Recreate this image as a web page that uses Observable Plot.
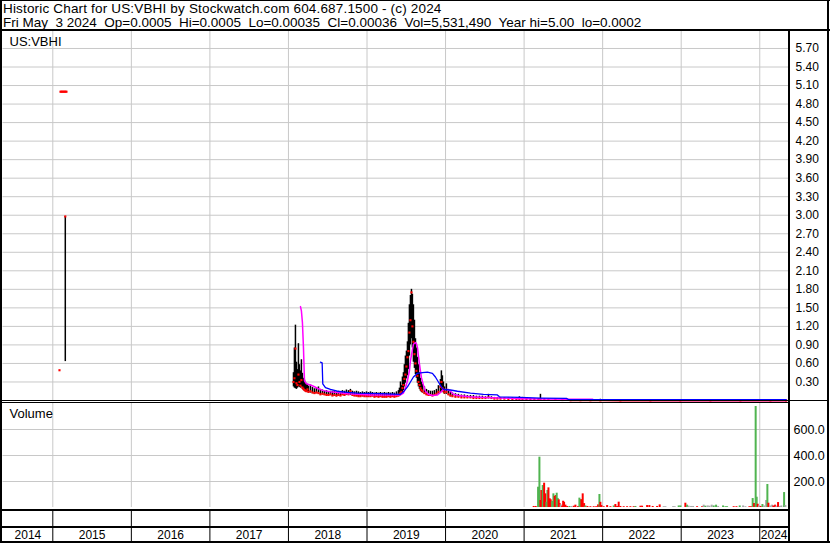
<!DOCTYPE html>
<html><head><meta charset="utf-8">
<script src="https://cdn.jsdelivr.net/npm/d3@7"></script>
<script src="https://cdn.jsdelivr.net/npm/@observablehq/plot@0.6"></script>
<style>
body{margin:0;background:#fff;}
#chart{position:relative;width:830px;height:543px;overflow:hidden;background:#fff;font-family:"Liberation Sans",Arial,sans-serif;color:#000;}
.hdr{position:absolute;left:3px;font-size:13.5px;line-height:14px;white-space:pre;}
.ln{position:absolute;background:#000;}
</style></head><body>
<div id="chart"></div>
<script>
// ---------- header text ----------
const headerLine1 = "Historic Chart for US:VBHI by Stockwatch.com 604.687.1500 - (c) 2024";
const headerLine2 = "Fri May  3 2024  Op=0.0005  Hi=0.0005  Lo=0.00035  Cl=0.00036  Vol=5,531,490  Year hi=5.00  lo=0.0002";
const symbolLabel = "US:VBHI";
const volumeLabel = "Volume";

// ---------- axes ----------
const xDomain = [2014.366, 2024.366];
const yearStarts = [2015, 2016, 2017, 2018, 2019, 2020, 2021, 2022, 2023, 2024];
const yearLabels = ["2014", "2015", "2016", "2017", "2018", "2019", "2020", "2021", "2022", "2023", "2024"];
const priceTicks = [0.30, 0.60, 0.90, 1.20, 1.50, 1.80, 2.10, 2.40, 2.70, 3.00, 3.30, 3.60, 3.90, 4.20, 4.50, 4.80, 5.10, 5.40, 5.70];
const priceDomain = [0, 5.975];
const volumeTicks = [200, 400, 600];
const volumeDomain = [0, 800];

// ---------- price bars (decimal year, high, low, close) ----------
const priceDates = [
 2015.085, 2015.098, 2015.110, 2015.123, 2015.136, 2015.149, 2015.159, 2015.161, 2015.174, 2018.064, 2018.076, 2018.089, 2018.102,
 2018.115, 2018.127, 2018.140, 2018.153, 2018.165, 2018.178, 2018.191, 2018.204, 2018.216, 2018.229,
 2018.242, 2018.255, 2018.280, 2018.306, 2018.331, 2018.356, 2018.382, 2018.407, 2018.433, 2018.458,
 2018.484, 2018.509, 2018.535, 2018.560, 2018.585, 2018.611, 2018.636, 2018.662, 2018.687, 2018.713,
 2018.738, 2018.764, 2018.789, 2018.815, 2018.840, 2018.866, 2018.891, 2018.916, 2018.942, 2018.967,
 2018.993, 2019.018, 2019.044, 2019.069, 2019.095, 2019.120, 2019.146, 2019.171, 2019.197, 2019.222,
 2019.247, 2019.273, 2019.298, 2019.324, 2019.349, 2019.375, 2019.400, 2019.413, 2019.426, 2019.438,
 2019.451, 2019.464, 2019.476, 2019.489, 2019.502, 2019.515, 2019.527, 2019.540, 2019.553, 2019.566,
 2019.578, 2019.591, 2019.604, 2019.617, 2019.629, 2019.642, 2019.655, 2019.668, 2019.680, 2019.693,
 2019.706, 2019.731, 2019.757, 2019.782, 2019.807, 2019.833, 2019.858, 2019.884, 2019.909, 2019.935,
 2019.947, 2019.960, 2019.973, 2019.986, 2020.011, 2020.037, 2020.062, 2020.088, 2020.126, 2020.164,
 2020.202, 2020.240, 2020.278, 2020.317, 2020.355, 2020.393, 2020.431, 2020.469, 2020.508, 2020.546,
 2020.584, 2020.622, 2020.660, 2020.699, 2020.749, 2020.800, 2020.851, 2020.902, 2020.940, 2020.979,
 2021.030, 2021.080, 2021.131, 2021.182, 2021.208, 2021.258, 2021.310, 2021.399, 2021.488, 2021.590,
 2021.717, 2021.844, 2021.971, 2022.226, 2022.608, 2022.990, 2023.372, 2023.754, 2024.136, 2024.336];
const priceHigh = [
 0.49, 5.00, 5.00, 5.00, 5.00, 5.00, 2.98, 5.00, 5.00, 0.45, 0.85, 1.22, 0.62,
 0.50, 0.92, 0.58, 0.48, 0.66, 0.44, 0.36, 0.33, 0.29, 0.27,
 0.26, 0.23, 0.25, 0.21, 0.19, 0.21, 0.22, 0.18, 0.17, 0.15,
 0.16, 0.14, 0.15, 0.15, 0.16, 0.14, 0.15, 0.14, 0.16, 0.15,
 0.17, 0.16, 0.18, 0.15, 0.14, 0.15, 0.14, 0.13, 0.14, 0.13,
 0.14, 0.13, 0.14, 0.13, 0.12, 0.13, 0.12, 0.13, 0.12, 0.13,
 0.12, 0.13, 0.12, 0.13, 0.12, 0.14, 0.16, 0.20, 0.30, 0.24,
 0.38, 0.45, 0.58, 0.72, 0.80, 0.95, 1.25, 1.55, 1.70, 1.80,
 1.72, 1.55, 1.30, 1.00, 0.85, 0.70, 0.58, 0.45, 0.36, 0.30,
 0.26, 0.22, 0.18, 0.16, 0.15, 0.15, 0.16, 0.18, 0.24, 0.34,
 0.48, 0.40, 0.30, 0.22, 0.27, 0.18, 0.14, 0.12, 0.11, 0.10,
 0.09, 0.09, 0.08, 0.08, 0.08, 0.07, 0.07, 0.07, 0.06, 0.10,
 0.06, 0.05, 0.05, 0.05, 0.04, 0.04, 0.04, 0.04, 0.06, 0.05,
 0.04, 0.03, 0.03, 0.03, 0.10, 0.03, 0.02, 0.02, 0.015, 0.01,
 0.015, 0.01, 0.02, 0.004, 0.003, 0.003, 0.002, 0.002, 0.0015, 0.0005];
const priceLow = [
 0.49, 5.00, 5.00, 5.00, 5.00, 5.00, 0.63, 5.00, 5.00, 0.22, 0.20, 0.19, 0.18,
 0.20, 0.22, 0.21, 0.20, 0.22, 0.18, 0.16, 0.15, 0.14, 0.13,
 0.14, 0.12, 0.12, 0.11, 0.10, 0.11, 0.10, 0.09, 0.09, 0.08,
 0.08, 0.07, 0.08, 0.07, 0.07, 0.06, 0.07, 0.07, 0.08, 0.07,
 0.08, 0.08, 0.08, 0.07, 0.07, 0.06, 0.06, 0.06, 0.06, 0.06,
 0.06, 0.05, 0.06, 0.06, 0.05, 0.05, 0.05, 0.05, 0.05, 0.05,
 0.05, 0.05, 0.05, 0.05, 0.05, 0.05, 0.06, 0.07, 0.08, 0.10,
 0.12, 0.16, 0.22, 0.28, 0.35, 0.40, 0.50, 0.72, 0.90, 1.00,
 0.85, 0.62, 0.52, 0.42, 0.36, 0.28, 0.22, 0.18, 0.15, 0.13,
 0.12, 0.10, 0.08, 0.08, 0.07, 0.07, 0.08, 0.09, 0.10, 0.12,
 0.15, 0.14, 0.12, 0.10, 0.10, 0.08, 0.06, 0.06, 0.05, 0.05,
 0.04, 0.04, 0.04, 0.04, 0.03, 0.03, 0.03, 0.03, 0.03, 0.03,
 0.03, 0.02, 0.02, 0.02, 0.02, 0.02, 0.02, 0.015, 0.015, 0.015,
 0.01, 0.01, 0.01, 0.01, 0.01, 0.01, 0.005, 0.005, 0.005, 0.003,
 0.003, 0.002, 0.002, 0.001, 0.001, 0.001, 0.0008, 0.0005, 0.0004, 0.00035];
const priceClose = [
 0.49, 5.00, 5.00, 5.00, 5.00, 5.00, 2.98, 5.00, 5.00, 0.30, 0.36, 0.84, 0.28,
 0.25, 0.42, 0.30, 0.24, 0.33, 0.21, 0.19, 0.17, 0.16, 0.15,
 0.18, 0.14, 0.15, 0.13, 0.12, 0.13, 0.12, 0.10, 0.11, 0.10,
 0.09, 0.09, 0.10, 0.08, 0.09, 0.08, 0.09, 0.08, 0.10, 0.09,
 0.11, 0.10, 0.15, 0.09, 0.08, 0.08, 0.07, 0.07, 0.08, 0.07,
 0.07, 0.07, 0.07, 0.08, 0.06, 0.07, 0.06, 0.07, 0.06, 0.06,
 0.06, 0.07, 0.06, 0.07, 0.06, 0.07, 0.08, 0.10, 0.12, 0.14,
 0.20, 0.25, 0.35, 0.42, 0.55, 0.70, 0.80, 1.10, 1.30, 1.75,
 1.20, 0.95, 0.75, 0.60, 0.48, 0.40, 0.30, 0.25, 0.20, 0.17,
 0.15, 0.12, 0.10, 0.09, 0.09, 0.08, 0.09, 0.11, 0.14, 0.22,
 0.30, 0.20, 0.16, 0.13, 0.14, 0.10, 0.08, 0.07, 0.06, 0.06,
 0.05, 0.05, 0.05, 0.05, 0.04, 0.04, 0.04, 0.04, 0.04, 0.05,
 0.04, 0.03, 0.03, 0.03, 0.03, 0.02, 0.02, 0.02, 0.02, 0.02,
 0.02, 0.015, 0.015, 0.015, 0.02, 0.01, 0.01, 0.01, 0.008, 0.005,
 0.005, 0.004, 0.003, 0.002, 0.0015, 0.0012, 0.001, 0.0008, 0.0006, 0.00036];

// ---------- moving averages ----------
const fastMaDates = [2018.153, 2018.165, 2018.178, 2018.191, 2018.204, 2018.229, 2018.280, 2018.318, 2018.382, 2018.445,
 2018.535, 2018.624, 2018.751, 2018.878, 2019.044, 2019.209, 2019.426, 2019.464, 2019.489, 2019.515,
 2019.540, 2019.553, 2019.578, 2019.591, 2019.617, 2019.629, 2019.642, 2019.655, 2019.668, 2019.680,
 2019.693, 2019.718, 2019.744, 2019.782, 2019.833, 2019.897, 2019.935, 2019.973, 2020.024, 2020.062,
 2020.100, 2020.164, 2020.317, 2020.508, 2020.699, 2020.953, 2021.271, 2021.590, 2021.870, 2021.895,
 2023.245, 2024.336];
const fastMaValues = [1.52, 1.45, 1.26, 0.86, 0.32, 0.27, 0.25, 0.23, 0.19, 0.16,
 0.14, 0.13, 0.11, 0.10, 0.09, 0.09, 0.09, 0.12, 0.20, 0.32,
 0.48, 0.64, 0.82, 0.91, 0.94, 0.92, 0.86, 0.72, 0.59, 0.48,
 0.37, 0.25, 0.15, 0.10, 0.08, 0.09, 0.13, 0.18, 0.18, 0.15,
 0.10, 0.08, 0.06, 0.05, 0.04, 0.03, 0.025, 0.02, 0.02, 0.003,
 0.001, 0.0005];
const slowMaDates = [2018.407, 2018.429, 2018.437, 2018.471, 2018.535, 2018.624, 2018.751, 2018.878, 2019.171, 2019.426,
 2019.464, 2019.515, 2019.553, 2019.591, 2019.642, 2019.706, 2019.769, 2019.833, 2019.871, 2019.909,
 2019.947, 2019.973, 2020.062, 2020.151, 2020.317, 2020.482, 2020.660, 2020.686, 2020.953, 2021.208,
 2021.539, 2021.564, 2024.336];
const slowMaValues = [0.62, 0.61, 0.27, 0.21, 0.18, 0.15, 0.13, 0.12, 0.11, 0.10,
 0.14, 0.22, 0.30, 0.38, 0.44, 0.45, 0.46, 0.44, 0.38, 0.30,
 0.22, 0.18, 0.17, 0.15, 0.12, 0.10, 0.09, 0.06, 0.05, 0.04,
 0.035, 0.015, 0.015];

// ---------- volume (decimal year, value, direction: 1 up, -1 down, 0 unchanged) ----------
const volDates = [
 2021.122, 2021.148, 2021.178, 2021.195, 2021.208, 2021.220, 2021.237, 2021.255, 2021.271, 2021.284,
 2021.297, 2021.310, 2021.326, 2021.339, 2021.357, 2021.373, 2021.390, 2021.402, 2021.415, 2021.428,
 2021.441, 2021.453, 2021.466, 2021.484, 2021.497, 2021.509, 2021.526, 2021.548, 2021.577, 2021.602,
 2021.632, 2021.653, 2021.688, 2021.704, 2021.717, 2021.730, 2021.746, 2021.764, 2021.781, 2021.806,
 2021.844, 2021.886, 2021.917, 2021.942, 2021.959, 2021.971, 2021.984, 2022.013, 2022.057, 2022.099,
 2022.141, 2022.162, 2022.184, 2022.204, 2022.226, 2022.268, 2022.311, 2022.353, 2022.395, 2022.417,
 2022.481, 2022.502, 2022.566, 2022.595, 2022.637, 2022.693, 2022.726, 2022.777, 2022.799, 2022.897,
 2022.917, 2022.968, 2022.990, 2023.053, 2023.075, 2023.095, 2023.126, 2023.151, 2023.202, 2023.266,
 2023.286, 2023.308, 2023.337, 2023.359, 2023.388, 2023.414, 2023.444, 2023.470, 2023.533, 2023.563,
 2023.584, 2023.668, 2023.703, 2023.745, 2023.788, 2023.817, 2023.868, 2023.890, 2023.910, 2023.928,
 2023.948, 2023.961, 2023.974, 2023.992, 2024.012, 2024.034, 2024.055, 2024.081, 2024.097, 2024.110,
 2024.132, 2024.157, 2024.174, 2024.195, 2024.212, 2024.233, 2024.254, 2024.275, 2024.310, 2024.326];
const volValues = [
 8, 8, 156, 387, 54, 131, 169, 187, 105, 40,
 131, 151, 67, 59, 46, 105, 85, 92, 110, 70,
 59, 30, 20, 10, 48, 40, 18, 8, 8, 8,
 10, 18, 8, 72, 60, 60, 105, 30, 12, 8,
 6, 6, 6, 20, 100, 40, 15, 6, 15, 6,
 12, 23, 8, 41, 8, 6, 6, 6, 6, 8,
 10, 10, 15, 15, 8, 8, 20, 6, 6, 6,
 6, 12, 12, 33, 18, 10, 8, 8, 6, 6,
 18, 10, 12, 10, 18, 12, 18, 8, 12, 6,
 6, 6, 6, 12, 12, 6, 6, 6, 69, 31,
 777, 79, 25, 12, 8, 23, 12, 54, 177, 33,
 12, 18, 12, 18, 10, 38, 8, 12, 115, 15];
const volDirs = [
 -1, -1, 1, 1, -1, -1, 1, -1, -1, 1,
 1, -1, -1, -1, 1, 1, -1, -1, 1, 1,
 -1, -1, 0, -1, -1, -1, -1, -1, 1, 0,
 -1, -1, -1, 1, 1, -1, -1, -1, 1, -1,
 -1, -1, -1, -1, 1, -1, -1, -1, -1, -1,
 1, -1, -1, -1, -1, -1, -1, -1, -1, 1,
 -1, -1, -1, -1, -1, -1, -1, 0, 0, 0,
 0, 1, 1, -1, 1, 0, 0, 0, -1, -1,
 0, 1, 0, 0, 0, 1, 1, 0, 1, 1,
 1, -1, -1, 1, 0, 0, -1, -1, 1, -1,
 1, 1, -1, 0, -1, 1, 0, 0, 1, -1,
 0, 0, -1, -1, 0, -1, 0, 0, 1, 0];

// ---------- build ----------
const W = 830, ML = 2.5, MR = 42;
const FONT = '"Liberation Sans", Arial, sans-serif';
const GRID = "#c8c8c8";
const dirColor = {"1": "#50b450", "-1": "#ff0000", "0": "#a8a8a8"};

const priceRows = priceDates.map((t, i) => ({t, hi: priceHigh[i], lo: priceLow[i], close: priceClose[i]}));
const fastRows = fastMaDates.map((t, i) => ({t, v: fastMaValues[i]}));
const slowRows = slowMaDates.map((t, i) => ({t, v: slowMaValues[i]}));
const volRows = volDates.map((t, i) => ({t, v: volValues[i], c: dirColor[String(volDirs[i])]}));
const yearBounds = [xDomain[0], ...yearStarts, xDomain[1]];
const yearCells = yearLabels.map((label, i) => ({label, mid: (yearBounds[i] + yearBounds[i + 1]) / 2}));

const chart = document.getElementById("chart");
function place(node, top) {
  node.style.position = "absolute";
  node.style.left = "0px";
  node.style.top = top + "px";
  node.style.overflow = "visible";
  chart.appendChild(node);
}
const baseStyle = {fontFamily: FONT, fontSize: "12px", background: "transparent", color: "#000"};

const pricePlot = Plot.plot({
  width: W, height: 369, marginLeft: ML, marginRight: MR, marginTop: 0, marginBottom: 0,
  x: {domain: xDomain, axis: null},
  y: {domain: priceDomain, axis: null},
  style: baseStyle,
  marks: [
    Plot.ruleY(priceTicks, {stroke: GRID}),
    Plot.ruleX(yearStarts, {stroke: GRID}),
    Plot.ruleX(priceRows, {x: "t", y1: "lo", y2: "hi", stroke: "#000", strokeWidth: 1.5}),
    Plot.line(priceRows.filter(d => d.t >= 2021.55), {x: "t", y: "close", stroke: "#ff0000", strokeWidth: 2}),
    Plot.dot(priceRows, {x: "t", y: "close", symbol: "square", r: 1.2, fill: "#ff0000", stroke: null}),
    Plot.line(fastRows, {x: "t", y: "v", stroke: "#ff00ff", strokeWidth: 1.5}),
    Plot.line(slowRows, {x: "t", y: "v", stroke: "#0000ff", strokeWidth: 1.3}),
    Plot.axisY(priceTicks, {anchor: "right", tickSize: 0, tickPadding: 7, tickFormat: d3.format(".2f"), label: null, fontSize: 12}),
    Plot.text([symbolLabel], {text: d => d, frameAnchor: "top-left", dx: 6.5, dy: 10.8, lineAnchor: "middle", textAnchor: "start", fontSize: 13})
  ]
});
place(pricePlot, 31);

const volumePlot = Plot.plot({
  width: W, height: 104, marginLeft: ML, marginRight: MR, marginTop: 0, marginBottom: 0,
  x: {domain: xDomain, axis: null},
  y: {domain: volumeDomain, axis: null},
  color: {type: "identity"},
  style: baseStyle,
  marks: [
    Plot.ruleY(volumeTicks, {stroke: GRID}),
    Plot.ruleX(yearStarts, {stroke: GRID}),
    Plot.ruleX(volRows, {x: "t", y1: 0, y2: "v", stroke: d => d.c, strokeWidth: 2}),
    Plot.axisY(volumeTicks, {anchor: "right", tickSize: 0, tickPadding: 5, tickFormat: d3.format(".1f"), label: null, fontSize: 12.5}),
    Plot.text([volumeLabel], {text: d => d, frameAnchor: "top-left", dx: 6.5, dy: 10.8, lineAnchor: "middle", textAnchor: "start", fontSize: 13})
  ]
});
place(volumePlot, 403);

const yearPlot = Plot.plot({
  width: W, height: 30, marginLeft: ML, marginRight: MR, marginTop: 0, marginBottom: 0,
  x: {domain: xDomain, axis: null},
  style: baseStyle,
  marks: [
    Plot.ruleX(yearStarts, {stroke: "#000"}),
    Plot.text(yearCells, {x: "mid", text: "label", frameAnchor: "bottom", lineAnchor: "middle", dy: -6, fontSize: 12})
  ]
});
place(yearPlot, 511);

// header text
[[headerLine1, 2.3, "0.17px"], [headerLine2, 16, "0px"]].forEach(([txt, top, ls]) => {
  const d = document.createElement("div");
  d.className = "hdr"; d.style.top = top + "px"; d.style.letterSpacing = ls; d.textContent = txt;
  chart.appendChild(d);
});

// frame lines (layout only)
const frame = [
  [0, 0, 830, 1], [0, 0, 2, 543], [827, 0, 2, 543], [0, 541, 830, 2],
  [0, 29, 830, 2], [788, 31, 2, 510],
  [2, 400, 826, 1], [2, 402, 786, 1],
  [0, 509, 790, 2], [0, 526, 790, 2]
];
frame.forEach(([l, t, w, h]) => {
  const d = document.createElement("div");
  d.className = "ln";
  d.style.cssText = `left:${l}px;top:${t}px;width:${w}px;height:${h}px;`;
  chart.appendChild(d);
});
</script>
</body></html>
